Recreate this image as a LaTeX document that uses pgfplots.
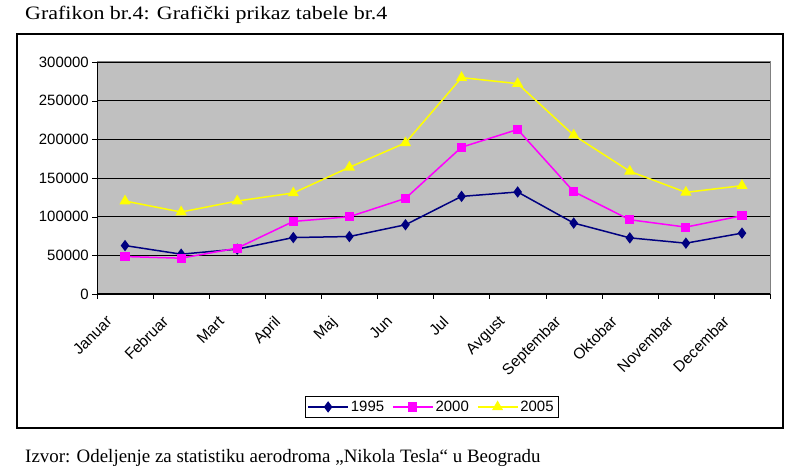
\documentclass[border=0pt]{standalone}
\usepackage{fontspec}
\setmainfont{Liberation Serif}
\newfontfamily\arial{Liberation Sans}
\usepackage{pgfplots}
\pgfplotsset{compat=1.18}
\definecolor{plotgray}{RGB}{192,192,192}
\definecolor{navy95}{RGB}{0,0,128}
\definecolor{mag00}{RGB}{255,0,255}
\definecolor{yel05}{RGB}{255,255,0}
\begin{document}
\begin{tikzpicture}[x=1bp,y=1bp]
\path[use as bounding box] (0,0) rectangle (799,476);
% okvir oko grafikona
\draw[line width=1.5bp] (17,48) rectangle (783,442);
\node[anchor=west, font=\fontsize{19}{21}\selectfont, inner sep=0, xscale=1.16] at (25,461) {Grafikon br.4: Grafički prikaz tabele br.4};
\node[anchor=west, font=\fontsize{19}{21}\selectfont, inner sep=0] at (25,18) {Izvor: Odeljenje za statistiku aerodroma „Nikola Tesla“ u Beogradu};
\begin{axis}[
    at={(97bp,182bp)}, anchor=south west,
    scale only axis, width=673bp, height=232bp,
    xmin=0, xmax=12, ymin=0, ymax=300000,
    axis background/.style={fill=plotgray},
    axis line style={draw=gray, line width=1bp},
    xtick={0.5,1.5,...,11.5},
    xticklabels={Januar,Februar,Mart,April,Maj,Jun,Jul,Avgust,Septembar,Oktobar,Novembar,Decembar},
    major x tick style={draw=none},
    minor xtick={0,1,...,12},
    minor x tick style={black},
    ytick={0,50000,100000,150000,200000,250000,300000},
    yticklabels={0,50000,100000,150000,200000,250000,300000},
    ymajorgrids, major grid style={black, line width=0.8bp},
    tick align=outside, tick pos=left,
    major tick length=5bp, minor tick length=5bp,
    tick style={black},
    scaled y ticks=false,
    tick label style={font=\arial\fontsize{15}{17}\selectfont},
    yticklabel style={inner sep=1bp, xshift=-2bp},
    xticklabel style={font=\arial\fontsize{15.5}{17}\selectfont, rotate=45, anchor=north east,
        inner sep=1bp, yshift=4bp, xshift=-24bp},
    legend columns=3,
    legend style={at={(0.497,-0.487)}, anchor=center, draw=black, fill=white,
        font=\arial\fontsize{15}{17}\selectfont, inner sep=2.5bp,
        /tikz/every even column/.append style={column sep=6bp}},
    legend image code/.code={\draw[mark repeat=2, mark phase=2, line width=1.5bp]
        plot coordinates {(0bp,0bp) (20bp,0bp) (40bp,0bp)};},
]
\addplot[navy95, line width=1.5bp, mark=diamond*, mark size=4.5bp, mark options={fill=navy95}] coordinates {
    (0.5,62600) (1.5,51500) (2.5,58000) (3.5,73000) (4.5,74300) (5.5,89500)
    (6.5,126200) (7.5,131900) (8.5,91700) (9.5,72600) (10.5,65700) (11.5,78700)
};
\addlegendentry{1995}
\addplot[mag00, line width=1.5bp, mark=square*, mark size=3.8bp, mark options={fill=mag00}] coordinates {
    (0.5,48400) (1.5,46300) (2.5,59300) (3.5,93800) (4.5,99900) (5.5,123600)
    (6.5,189800) (7.5,212700) (8.5,132300) (9.5,96000) (10.5,86500) (11.5,101200)
};
\addlegendentry{2000}
\addplot[yel05, line width=1.5bp, mark=triangle*, mark size=5bp, mark options={fill=yel05}] coordinates {
    (0.5,120200) (1.5,106000) (2.5,120200) (3.5,130600) (4.5,163800) (5.5,195400)
    (6.5,279800) (7.5,272000) (8.5,205300) (9.5,158600) (10.5,131400) (11.5,140100)
};
\addlegendentry{2005}
\draw[black, line width=1bp] (rel axis cs:0,1) -- (rel axis cs:0,0) -- (rel axis cs:1,0);
\end{axis}
\end{tikzpicture}
\end{document}
